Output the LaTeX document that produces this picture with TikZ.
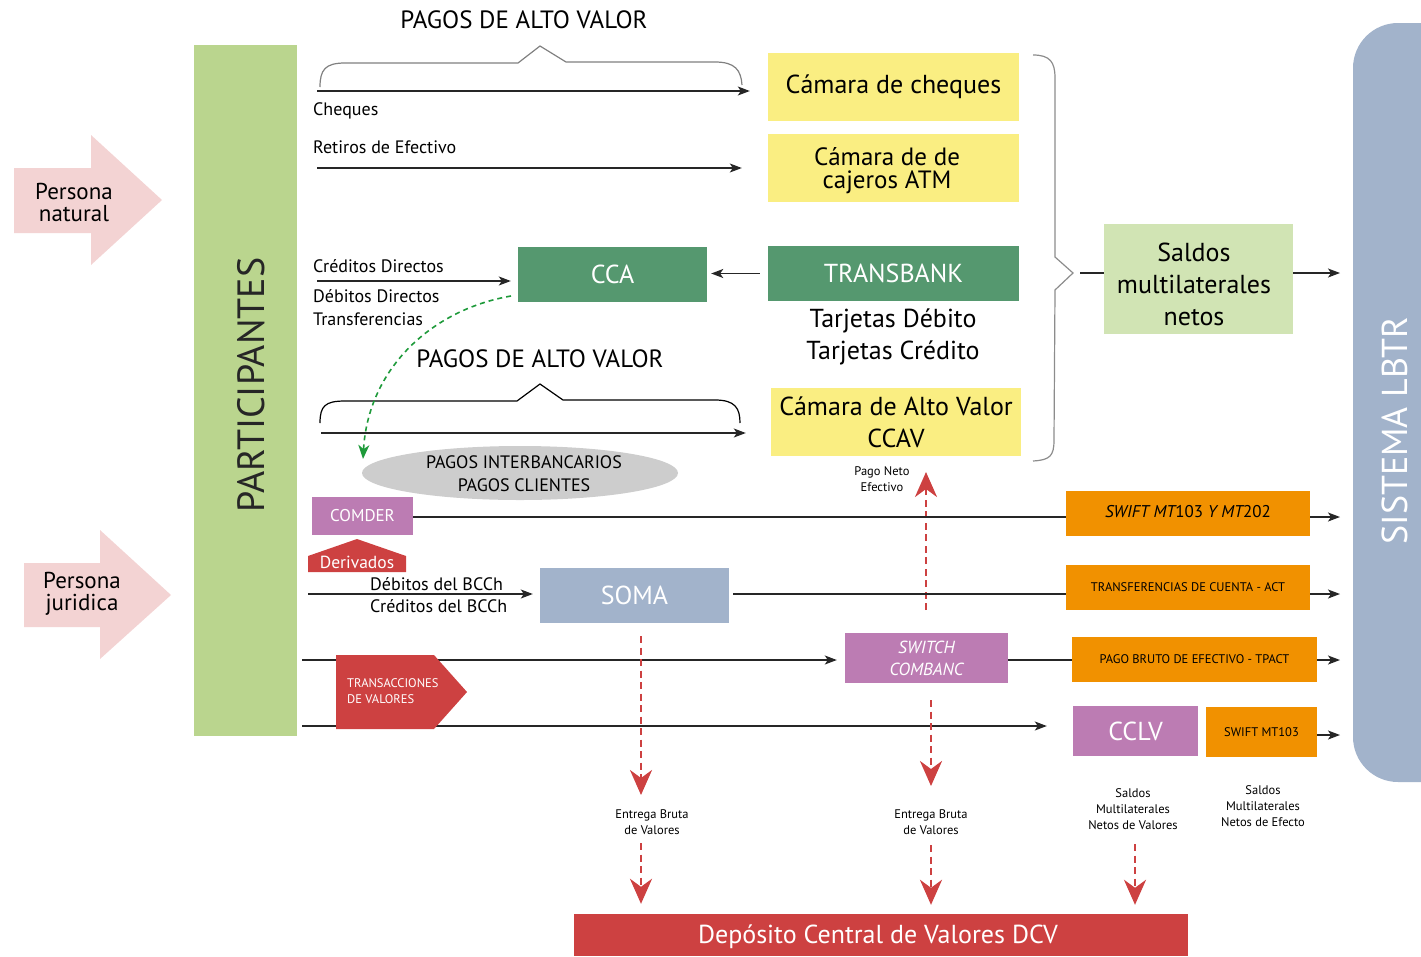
\documentclass[tikz,border=0pt]{standalone}
\usepackage{fontspec}
\setmainfont{PT Sans}
\usetikzlibrary{arrows.meta,shapes.geometric}
\definecolor{partgreen}{HTML}{BAD58E}
\definecolor{pinkc}{HTML}{F3D3D3}
\definecolor{yel}{HTML}{FAEE82}
\definecolor{ccag}{HTML}{55986F}
\definecolor{salg}{HTML}{D1E4B4}
\definecolor{lbtr}{HTML}{A2B3CB}
\definecolor{purp}{HTML}{BC7CB3}
\definecolor{oran}{HTML}{F19100}
\definecolor{redc}{HTML}{CD4141}
\definecolor{ellg}{HTML}{CDCDCD}
\definecolor{greenarr}{HTML}{1E9A3A}
\newcommand\fsz[2]{\fontsize{#1}{#2}\selectfont}
\begin{document}
\begin{tikzpicture}[x=1pt,y=-1pt,
 box/.style={inner sep=0pt, align=center, anchor=center},
 lbl/.style={inner sep=0pt, anchor=west, font=\fsz{18}{20}},
 small/.style={inner sep=0pt, align=center, font=\fsz{12.5}{16}},
 arr/.style={-{Stealth[length=12pt,width=9pt,inset=3pt]}, line width=1.3pt, draw=black!85},
 ln/.style={line width=1.3pt, draw=black!85},
 rarr/.style={draw=redc, line width=2.8pt, dash pattern=on 7pt off 4.5pt, -{Stealth[length=25pt,width=22pt,inset=8pt]}},
 brace/.style={line width=1.2pt, line join=miter},
]
\useasboundingbox (0,0) rectangle (1421,956);

% SISTEMA LBTR
\begin{scope}
\clip (0,0) rectangle (1421,956);
\node[fill=lbtr, rounded corners=45pt, minimum width=127pt, minimum height=759pt, inner sep=0pt] (lbtr) at (1416.5,402.5) {};
\end{scope}
\node[box, rotate=90, text=white, font=\fsz{36}{40}] (lbtrt) at (1395,431) {SISTEMA LBTR};

% Participantes
\node[box, fill=partgreen, minimum width=103pt, minimum height=691pt] (part) at (245.5,390.5) {};
\node[box, rotate=90, text=black!85, font=\fsz{38}{40}] (partt) at (251,385) {PARTICIPANTES};

% Persona arrows
\fill[pinkc] (14,168) -- (91,168) -- (91,135) -- (162,200) -- (91,265) -- (91,233) -- (14,233) -- cycle;
\node[box, font=\fsz{23}{22}] (pnat) at (74,202) {Persona\\natural};
\fill[pinkc] (24,563) -- (100,563) -- (100,530) -- (171,595) -- (100,659) -- (100,627) -- (24,627) -- cycle;
\node[box, font=\fsz{23}{22}] (pjur) at (82,594) {Persona\\juridica};

% top brace
\node[box, font=\fsz{25}{27}] (pav1) at (524,20) {PAGOS DE ALTO VALOR};
\draw[brace, draw=black!50] (320,87) .. controls (320,70) and (325,63) .. (345,63) -- (518,63) -- (540,46) -- (566,62) -- (715,62) .. controls (735,62) and (741,70) .. (742,85);

% Camaras
\node[box, fill=yel, minimum width=251pt, minimum height=68pt, font=\fsz{26}{28}] (chq) at (893.5,87) {Cámara de cheques};
\node[box, fill=yel, minimum width=251pt, minimum height=68pt] (atm) at (893.5,168) {};
\node[box, font=\fsz{25}{23}] (atmt) at (887,171) {Cámara de de\\cajeros ATM};

\node[lbl] (lchq) at (313,111) {Cheques};
\node[lbl] (lret) at (313,147) {Retiros de Efectivo};
\coordinate (c0) at (317,91);
\coordinate (c1) at (317,168);
\draw[arr, shorten >=18pt] (c0) -- (c0 -| chq.west);
\draw[arr, shorten >=26pt] (c1) -- (c1 -| atm.west);

% CCA / Transbank
\node[box, fill=ccag, minimum width=189pt, minimum height=55pt, text=white, font=\fsz{26}{28}] (cca) at (612.5,274.5) {CCA};
\node[box, fill=ccag, minimum width=251pt, minimum height=55pt, text=white, font=\fsz{26}{28}] (tb) at (893.5,273.5) {TRANSBANK};
\draw[arr, shorten <=8pt, shorten >=4pt] (tb.west) -- (tb.west -| cca.east);
\node[box, font=\fsz{26}{32}] (tarj) at (893,337) {Tarjetas Débito\\Tarjetas Crédito};

\node[lbl] (lcd) at (313,266) {Créditos Directos};
\node[lbl] (ldd) at (313,296) {Débitos Directos};
\node[lbl] (ltr) at (313,319) {Transferencias};
\coordinate (cd0) at (317,281);
\draw[arr, shorten >=7pt] (cd0) -- (cd0 -| cca.west);

% second brace
\node[box, font=\fsz{25}{27}] (pav2) at (540,359) {PAGOS DE ALTO VALOR};
\draw[brace, draw=black] (320,423) .. controls (320,406) and (325,401) .. (345,401) -- (517,401) -- (540,384) -- (563,400) -- (715,400) .. controls (735,400) and (740,408) .. (740,423);
\node[box, fill=yel, minimum width=250pt, minimum height=68pt, font=\fsz{26}{32}] (ccav) at (896,422) {Cámara de Alto Valor\\CCAV};
\coordinate (av0) at (321,433);
\draw[arr, shorten >=25pt] (av0) -- (av0 -| ccav.west);

% ellipse
\node[ellipse, fill=ellg, minimum width=316pt, minimum height=54pt, inner sep=0pt] (ell) at (520,473) {};
\node[box, font=\fsz{18}{23}] (ellt) at (524,474) {PAGOS INTERBANCARIOS\\PAGOS CLIENTES};

% green dashed
\coordinate (g0) at (511,296);
\coordinate (g1) at (363,459);
\draw[greenarr, line width=1.6pt, dash pattern=on 5pt off 4pt, -{Stealth[length=14pt,width=11pt,inset=4pt]}] (g0) .. controls (430,310) and (368,370) .. (g1);

% right brace + saldos
\draw[brace, draw=black!45] (1033,55) .. controls (1050,55) and (1055,62) .. (1055,78) -- (1055,257) -- (1073,273) -- (1055,290) -- (1054,440) .. controls (1054,456) and (1050,460) .. (1033,461);
\node[box, fill=salg, minimum width=189pt, minimum height=110pt] (sal) at (1198.5,279) {};
\node[box, font=\fsz{26}{32}] (salt) at (1194,284) {Saldos\\multilaterales\\netos};
\coordinate (b0) at (1080,273);
\coordinate (b1) at (1340,273);
\draw[ln] (b0) -- (b0 -| sal.west);
\draw[arr] (b0 -| sal.east) -- (b1);

% Pago neto efectivo
\node[small] (pne) at (882,479) {Pago Neto\\Efectivo};
\coordinate (u0) at (926,610);
\coordinate (u1) at (926,472);
\draw[rarr] (u0) -- (u1);

% COMDER row
\node[box, fill=purp, minimum width=101pt, minimum height=38pt, text=white, font=\fsz{17}{20}] (comder) at (362.5,516) {COMDER};
\node[box, fill=oran, minimum width=244pt, minimum height=45pt] (sw1) at (1188,513.5) {};
\node[box, font=\fsz{17}{20}] (sw1t) at (1188,512) {\itshape SWIFT MT\upshape 103 \itshape Y MT\upshape 202};
\draw[ln] (comder.east |- 0,517) -- (sw1.west |- 0,517);
\coordinate (r1) at (1340,517);
\draw[arr] (sw1.east |- r1) -- (r1);

% Derivados
\fill[redc] (308,572) -- (308,556) -- (357,539) -- (406,556) -- (406,572) -- cycle;
\node[box, text=white, font=\fsz{17.5}{20}] (der) at (357,562) {Derivados};

% SOMA row
\node[box, fill=lbtr, minimum width=189pt, minimum height=55pt, text=white, font=\fsz{26}{28}] (soma) at (634.5,595.5) {SOMA};
\node[lbl] (ldb) at (370,584) {Débitos del BCCh};
\node[lbl] (lcb) at (370,606) {Créditos del BCCh};
\coordinate (s0) at (308,594);
\draw[arr, shorten >=7pt] (s0) -- (s0 -| soma.west);
\node[box, fill=oran, minimum width=244pt, minimum height=45pt, font=\fsz{12.5}{14}] (act) at (1188,587.5) {TRANSFERENCIAS DE CUENTA - ACT};
\coordinate (r2) at (1340,594);
\draw[ln, shorten <=4pt] (soma.east |- r2) -- (act.west |- r2);
\draw[arr] (act.east |- r2) -- (r2);

% SWITCH row
\node[box, fill=purp, minimum width=163pt, minimum height=50pt, text=white, font=\fsz{17.5}{22}\itshape] (sw) at (926.5,658) {SWITCH\\COMBANC};
\node[box, fill=oran, minimum width=245pt, minimum height=45pt, font=\fsz{12.5}{14}] (tpact) at (1194.5,659.5) {PAGO BRUTO DE EFECTIVO - TPACT};
\coordinate (w0) at (302,660);
\coordinate (r3) at (1340,660);
\draw[arr, shorten >=8pt] (w0) -- (w0 -| sw.west);
\draw[ln] (sw.east |- r3) -- (tpact.west |- r3);
\draw[arr] (tpact.east |- r3) -- (r3);

% CCLV row
\coordinate (v0) at (302,726);
\node[box, fill=purp, minimum width=125pt, minimum height=50pt, text=white, font=\fsz{26}{28}] (cclv) at (1135.5,731) {CCLV};
\node[box, fill=oran, minimum width=111pt, minimum height=50pt, font=\fsz{12.5}{14}] (mt103) at (1261.5,732) {SWIFT MT103};
\draw[arr, shorten >=26pt] (v0) -- (v0 -| cclv.west);
\coordinate (r4) at (1340,735);
\draw[arr] (mt103.east |- r4) -- (r4);

% Transacciones de valores
\fill[redc] (336,655) -- (434,655) -- (467,692) -- (434,729) -- (336,729) -- cycle;
\node[inner sep=0pt, anchor=west, align=left, text=white, font=\fsz{12.5}{16}] (tv) at (347,691) {TRANSACCIONES\\DE VALORES};

% DCV
\node[box, fill=redc, minimum width=614pt, minimum height=42pt] (dcv) at (881,935) {};
\node[box, text=white, font=\fsz{26}{28}] (dcvt) at (878,937) {Depósito Central de Valores DCV};

% labels bottom
\node[small] (eb1) at (652,822) {Entrega Bruta\\de Valores};
\node[small] (eb2) at (931,822) {Entrega Bruta\\de Valores};
\node[small] (smv) at (1133,809) {Saldos\\Multilaterales\\Netos de Valores};
\node[small] (sme) at (1263,806) {Saldos\\Multilaterales\\Netos de Efecto};

% red dashed down arrows
\coordinate (a1) at (641,795);
\coordinate (a1b) at (641,843);
\draw[rarr, shorten <=13pt] (soma.south -| a1) -- (a1);
\draw[rarr, shorten >=10pt] (a1b) -- (a1b |- dcv.north);
\coordinate (a2) at (931,786);
\coordinate (a2a) at (931,700);
\coordinate (a2b) at (931,845);
\draw[rarr] (a2a) -- (a2);
\draw[rarr, shorten >=9pt] (a2b) -- (a2b |- dcv.north);
\coordinate (a3b) at (1135,844);
\draw[rarr, shorten >=9pt] (a3b) -- (a3b |- dcv.north);
\end{tikzpicture}
\end{document}
